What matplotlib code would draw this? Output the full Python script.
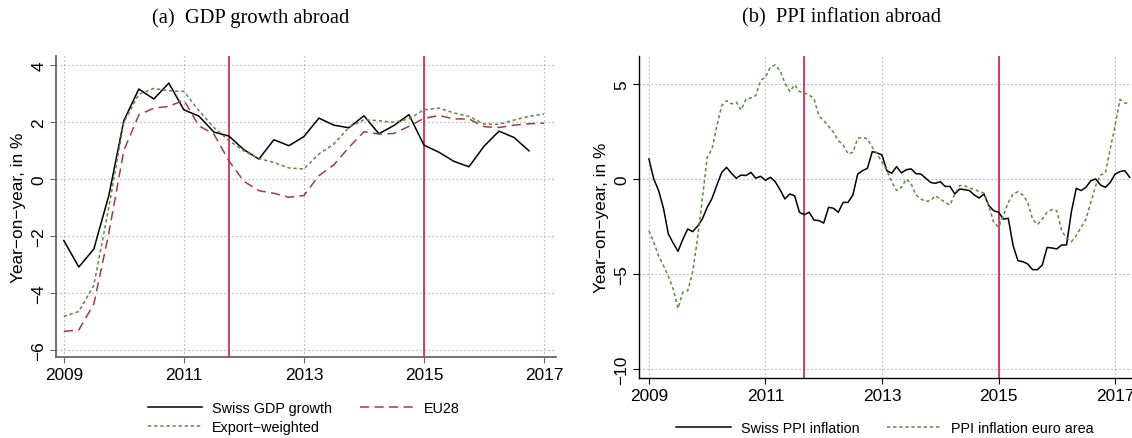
import numpy as np
import matplotlib
matplotlib.use("Agg")
import matplotlib.pyplot as plt

# quarterly GDP growth, 2009Q1 onwards
gdp_swiss = [-2.16, -3.09, -2.46, -0.58, 2.05, 3.16, 2.81, 3.37, 2.43, 2.21, 1.65, 1.51,
             1.03, 0.70, 1.38, 1.17, 1.49, 2.14, 1.89, 1.80, 2.22, 1.59, 1.88, 2.26,
             1.19, 0.94, 0.62, 0.43, 1.15, 1.68, 1.46, 0.99]
gdp_eu28 = [-5.35, -5.30, -4.39, -1.90, 1.00, 2.25, 2.49, 2.55, 2.77, 1.87, 1.58, 0.64,
            -0.08, -0.41, -0.50, -0.64, -0.58, 0.12, 0.50, 1.11, 1.66, 1.58, 1.60, 1.85,
            2.13, 2.23, 2.11, 2.11, 1.84, 1.81, 1.89, 1.94, 1.96]
gdp_export = [-4.82, -4.65, -3.74, -1.00, 1.99, 2.98, 3.18, 3.10, 3.08, 2.40, 1.81, 1.35,
              0.99, 0.72, 0.58, 0.39, 0.35, 0.88, 1.23, 1.81, 2.08, 2.05, 1.99, 2.11,
              2.43, 2.49, 2.32, 2.20, 1.93, 1.92, 2.07, 2.20, 2.28]

# monthly PPI inflation, Jan 2009 onwards
ppi_swiss = [1.05, 0.0, -0.61, -1.54, -2.89, -3.37, -3.81, -3.16, -2.63, -2.77,
             -2.49, -2.11, -1.49, -1.02, -0.32, 0.35, 0.61, 0.30, 0.04, 0.21,
             0.18, 0.35, 0.04, 0.14, -0.07, 0.09, -0.14, -0.56, -1.05, -0.79,
             -0.88, -1.75, -1.88, -1.75, -2.16, -2.19, -2.32, -1.49, -1.54, -1.75,
             -1.23, -1.23, -0.84, 0.26, 0.44, 0.56, 1.44, 1.37, 1.26, 0.44,
             0.30, 0.65, 0.32, 0.49, 0.53, 0.28, 0.26, 0.04, -0.18, -0.23,
             -0.14, -0.39, -0.39, -0.79, -0.53, -0.56, -0.61, -0.84, -1.00, -0.79,
             -1.40, -1.67, -1.75, -2.11, -2.07, -3.51, -4.30, -4.35, -4.47, -4.77,
             -4.77, -4.53, -3.60, -3.63, -3.68, -3.47, -3.47, -1.72, -0.49, -0.61,
             -0.44, -0.09, 0.0, -0.32, -0.44, -0.18, 0.26, 0.39, 0.44, 0.09]
ppi_euro = [-2.72, -3.33, -4.04, -4.56, -5.12, -5.79, -6.81, -5.96, -5.88, -4.91,
            -3.16, -1.05, 1.14, 1.58, 2.81, 3.86, 4.12, 3.95, 4.04, 3.63,
            4.21, 4.26, 4.39, 5.18, 5.35, 5.88, 6.00, 5.70, 5.05, 4.60,
            4.95, 4.60, 4.53, 4.42, 4.21, 3.33, 3.07, 2.77, 2.46, 2.02,
            1.79, 1.32, 1.40, 2.14, 2.19, 2.11, 1.67, 1.32, 0.88, 0.44,
            -0.14, -0.61, -0.44, 0.0, -0.26, -0.84, -1.05, -1.18, -1.14, -0.88,
            -1.05, -1.23, -1.37, -0.79, -0.35, -0.35, -0.49, -0.53, -0.67, -0.74,
            -1.40, -2.28, -2.54, -1.93, -1.23, -0.79, -0.67, -0.84, -1.23, -2.11,
            -2.40, -2.11, -1.75, -1.61, -1.67, -2.72, -3.12, -3.30, -2.98, -2.54,
            -2.11, -1.23, -0.35, 0.21, 0.32, 1.58, 2.81, 4.18, 4.00, 3.95]

# event dates (floor introduced / removed)
events_gdp = [2011.75, 2015.0]
events_ppi = [2011.67, 2015.0]

year_ticks = [2009, 2011, 2013, 2015, 2017]

q_gdp = 2009 + np.arange(len(gdp_eu28)) / 4
q_swiss = 2009 + np.arange(len(gdp_swiss)) / 4
m_ppi = 2009 + np.arange(len(ppi_swiss)) / 12

SANS = "Liberation Sans"
SERIF = "Liberation Serif"
BLACK = "black"
RED = "#a33a45"
GREEN = "#5e8a3a"
VLINE = "#d01e4e"
MINUS = "\u2212"
W, H = 1132, 439

plt.rcParams["font.family"] = SANS

fig = plt.figure(figsize=(W / 100, H / 100), dpi=100)


def box(l, t, r, b):
    return [l / W, 1 - b / H, (r - l) / W, (b - t) / H]


def style_axes(ax, spine_color, spine_w):
    for s in ["top", "right"]:
        ax.spines[s].set_visible(False)
    for s in ["left", "bottom"]:
        ax.spines[s].set_color(spine_color)
        ax.spines[s].set_linewidth(spine_w)
    ax.tick_params(axis="both", direction="out", length=4, width=0.8,
                   color=spine_color, labelsize=12.4, pad=3)
    ax.tick_params(axis="y", labelrotation=90)
    for lab in ax.get_yticklabels():
        lab.set_va("center")
    ax.grid(True, color="#a8a8a8", linestyle=(0, (1, 2.2)), linewidth=0.9)
    ax.set_axisbelow(True)
    ax.set_xticks(year_ticks)
    ax.set_ylabel("Year" + MINUS + "on" + MINUS + "year, in %", fontsize=12.4, labelpad=4)


# (a) GDP growth abroad
ax1 = fig.add_axes(box(56, 57, 556, 358))
l1, = ax1.plot(q_swiss, gdp_swiss, color=BLACK, lw=1.1, label="Swiss GDP growth")
l2, = ax1.plot(q_gdp, gdp_eu28, color=RED, lw=1.1, dashes=(6, 3.5), label="EU28")
l3, = ax1.plot(q_gdp, gdp_export, color=GREEN, lw=1.1, dashes=(2.2, 1.8),
               label="Export" + MINUS + "weighted")
for e in events_gdp:
    ax1.axvline(e, color=VLINE, lw=1.2, zorder=1)
ax1.set_xlim(2008.87, 2017.2)
ax1.set_ylim(-6.25, 4.32)
ax1.set_yticks([-6, -4, -2, 0, 2, 4])
style_axes(ax1, "#666666", 1.3)

# (b) PPI inflation abroad
ax2 = fig.add_axes(box(639, 57, 1132, 379))
l4, = ax2.plot(m_ppi, ppi_swiss, color=BLACK, lw=1.1, label="Swiss PPI inflation")
l5, = ax2.plot(m_ppi, ppi_euro, color=GREEN, lw=1.1, dashes=(2.2, 1.8),
               label="PPI inflation euro area")
for e in events_ppi:
    ax2.axvline(e, color=VLINE, lw=1.2, zorder=1)
ax2.set_xlim(2008.83, 2017.29)
ax2.set_ylim(-10.47, 6.47)
ax2.set_yticks([-10, -5, 0, 5])
style_axes(ax2, "black", 1.0)

fig.text(251 / W, 1 - 18 / H, "(a)  GDP growth abroad", family=SERIF,
         fontsize=14.8, ha="center", va="center")
fig.text(842 / W, 1 - 18 / H, "(b)  PPI inflation abroad", family=SERIF,
         fontsize=14.8, ha="center", va="center")

leg_kw = dict(loc="center", ncol=2, frameon=False, fontsize=10.4, handlelength=3.75,
              handletextpad=0.7, columnspacing=1.9, labelspacing=0.35, borderpad=0)
fig.legend([l1, l3, l2], [l1.get_label(), l3.get_label(), l2.get_label()],
           bbox_to_anchor=(304 / W, 1 - 418.5 / H), **leg_kw)
fig.legend([l4, l5], [l4.get_label(), l5.get_label()],
           bbox_to_anchor=(885 / W, 1 - 429 / H), **leg_kw)

fig.savefig("out.png", dpi=100)
